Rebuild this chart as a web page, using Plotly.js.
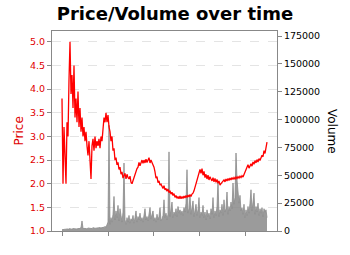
<!DOCTYPE html>
<html>
<head>
<meta charset="utf-8">
<script src="https://cdn.plot.ly/plotly-3.0.1.min.js"></script>
<style>html,body{margin:0;padding:0;background:#fff;}#chart{width:350px;height:255px;}</style>
</head>
<body>
<div id="chart"></div>
<script>
// Price series (one reading per time step)
const price = [
  3.8, 2.0, 3.2, 2.3, 2.0, 3.3, 3.0, 4.2, 5.0, 3.9,
  4.3, 3.6, 4.5, 3.4, 3.8, 3.3, 3.95, 3.2, 3.6, 3.1,
  3.4, 3.0, 3.2, 2.9, 3.1, 2.8, 2.6, 2.9, 2.5, 2.1,
  2.8, 2.95, 2.7, 3.0, 2.75, 2.9, 2.8, 2.95, 2.75, 3.0,
  2.9, 3.2, 3.4, 3.3, 3.5, 3.3, 3.45, 3.2, 3.1, 2.9,
  3.0, 2.7, 2.75, 2.5, 2.55, 2.4, 2.45, 2.3, 2.35, 2.2,
  2.25, 2.12, 2.18, 2.22, 2.1, 2.2, 2.13, 2.1, 2.16, 2.03,
  2.0, 2.07, 2.1, 2.2, 2.25, 2.32, 2.35, 2.45, 2.38, 2.47,
  2.5, 2.43, 2.5, 2.44, 2.52, 2.45, 2.5, 2.55, 2.44, 2.5,
  2.45, 2.4, 2.35, 2.25, 2.12, 2.15, 2.02, 2.06, 1.97, 1.99,
  1.93, 1.9, 1.96, 1.87, 1.9, 1.84, 1.89, 1.81, 1.85, 1.78,
  1.82, 1.75, 1.79, 1.71, 1.75, 1.69, 1.73, 1.68, 1.74, 1.68,
  1.73, 1.69, 1.74, 1.7, 1.75, 1.71, 1.76, 1.72, 1.77, 1.73,
  1.78, 1.8, 1.85, 1.92, 2.0, 2.08, 2.15, 2.25, 2.3, 2.22,
  2.32, 2.18, 2.26, 2.13, 2.2, 2.1, 2.18, 2.08, 2.15, 2.1,
  2.06, 2.13, 2.04, 2.11, 2.03, 2.09, 2.01, 2.06, 1.97, 2.0,
  2.03, 2.06, 2.08, 2.04, 2.1, 2.06, 2.11, 2.07, 2.12, 2.08,
  2.13, 2.09, 2.13, 2.1, 2.14, 2.11, 2.15, 2.12, 2.16, 2.13,
  2.17, 2.14, 2.2, 2.22, 2.3, 2.36, 2.4, 2.33, 2.39, 2.42,
  2.37, 2.46, 2.41, 2.49, 2.44, 2.51, 2.46, 2.53, 2.49, 2.56,
  2.6, 2.57, 2.7, 2.64, 2.8, 2.88
];

// Volume series (same time steps)
const volume = [
  1000, 1500, 1200, 1800, 1400, 2000, 1500, 1800, 2200, 1600,
  2000, 1700, 2300, 1800, 2100, 1600, 2400, 2000, 2600, 3000,
  9000, 2500, 2000, 2600, 1900, 2300, 2100, 2800, 2200, 2500,
  2000, 3200, 2400, 2800, 2200, 3000, 2500, 3400, 2600, 3100,
  2700, 3600, 3000, 4200, 3300, 5000, 8000, 95000, 6000, 12000,
  8000, 15000, 31000, 10000, 18000, 12000, 23000, 9000, 20000, 14000,
  8000, 17000, 61000, 10000, 6000, 12000, 8000, 14000, 7000, 11000,
  9000, 14000, 7000, 12000, 18000, 8000, 13000, 10000, 16000, 9000,
  12000, 8000, 15000, 20000, 10000, 13000, 9000, 17000, 21000, 11000,
  14000, 18000, 9000, 12000, 8000, 15000, 10000, 13000, 21000, 9000,
  11000, 14000, 28000, 12000, 16000, 10000, 15000, 71000, 13000, 18000,
  26000, 12000, 17000, 14000, 20000, 13000, 22000, 16000, 19000, 15000,
  18000, 14000, 21000, 17000, 25000, 55000, 16000, 20000, 32000, 15000,
  22000, 27000, 13000, 18000, 24000, 14000, 19000, 30000, 12000, 17000,
  14000, 23000, 12000, 17000, 10000, 19000, 13000, 16000, 11000, 20000,
  15000, 30000, 12000, 18000, 14000, 22000, 45000, 13000, 19000, 16000,
  24000, 14000, 28000, 17000, 20000, 35000, 15000, 22000, 18000, 26000,
  20000, 43000, 24000, 30000, 70000, 46000, 38000, 25000, 32000, 18000,
  21000, 15000, 24000, 12000, 19000, 14000, 22000, 16000, 25000, 37000,
  18000, 28000, 34000, 15000, 22000, 17000, 25000, 14000, 20000, 16000,
  21000, 13000, 20000, 17000, 19000, 12000
];

// Time-axis tick positions (labels are not shown in the reference)
const timeTicks = [0, 46, 91, 137, 183];
const timeTickLabels = ['', '', '', '', ''];

const tPrice = price.map((_, i) => i);
const tVolume = volume.map((_, i) => i);

const FONT = 'DejaVu Sans, Verdana, sans-serif';
const RED = '#e00000';

const traces = [
  {
    x: tVolume, y: volume, type: 'scatter', mode: 'lines',
    line: {color: '#8a8a8a', width: 0.8},
    fill: 'tozeroy', fillcolor: 'rgba(138,138,138,0.85)',
    yaxis: 'y', hoverinfo: 'skip', showlegend: false
  },
  {
    x: tPrice, y: price, type: 'scatter', mode: 'lines',
    line: {color: '#ff0000', width: 1.3},
    yaxis: 'y2', hoverinfo: 'skip', showlegend: false
  }
];

const layout = {
  width: 350, height: 255,
  margin: {l: 52, r: 73, t: 31, b: 24, pad: 0},
  paper_bgcolor: '#ffffff', plot_bgcolor: '#ffffff',
  font: {family: FONT, size: 9.5, color: '#000'},
  showlegend: false,
  title: {
    text: '<b>Price/Volume over time</b>',
    font: {family: FONT, size: 18, color: '#000'},
    x: 0.5, xref: 'container', xanchor: 'center',
    y: 1 - 14 / 255, yref: 'container', yanchor: 'middle'
  },
  xaxis: {
    range: [-10, 215],
    tickmode: 'array', tickvals: timeTicks, ticktext: timeTickLabels,
    ticks: 'outside', ticklen: 4, tickcolor: '#888', showticklabels: false,
    showline: true, linecolor: '#888', linewidth: 1, mirror: true,
    showgrid: false, zeroline: false
  },
  yaxis: {
    side: 'right',
    range: [0, 179500], dtick: 25000, tick0: 0,
    ticks: 'outside', ticklen: 4, tickcolor: '#888',
    tickfont: {family: FONT, size: 9.5, color: '#000'},
    showline: true, linecolor: '#888', linewidth: 1,
    showgrid: false, zeroline: false, tickformat: 'd'
  },
  yaxis2: {
    overlaying: 'y', side: 'left',
    range: [1.0, 5.23], dtick: 0.5, tick0: 1.0, tickformat: '.1f',
    ticks: 'outside', ticklen: 4, tickcolor: '#888',
    tickfont: {family: FONT, size: 9.5, color: RED},
    showline: true, linecolor: '#888', linewidth: 1,
    showgrid: true, gridcolor: '#dddddd', griddash: 'dash', gridwidth: 0.8,
    zeroline: false
  },
  annotations: [
    {text: 'Price', xref: 'paper', yref: 'paper', x: (18.5 - 52) / 225, y: 0.5,
     xanchor: 'center', yanchor: 'middle', textangle: -90, showarrow: false,
     font: {family: FONT, size: 12, color: RED}},
    {text: 'Volume', xref: 'paper', yref: 'paper', x: (332 - 52) / 225, y: 0.5,
     xanchor: 'center', yanchor: 'middle', textangle: 90, showarrow: false,
     font: {family: FONT, size: 12, color: '#000'}}
  ]
};

Plotly.newPlot('chart', traces, layout, {staticPlot: true, displayModeBar: false});
</script>
</body>
</html>
